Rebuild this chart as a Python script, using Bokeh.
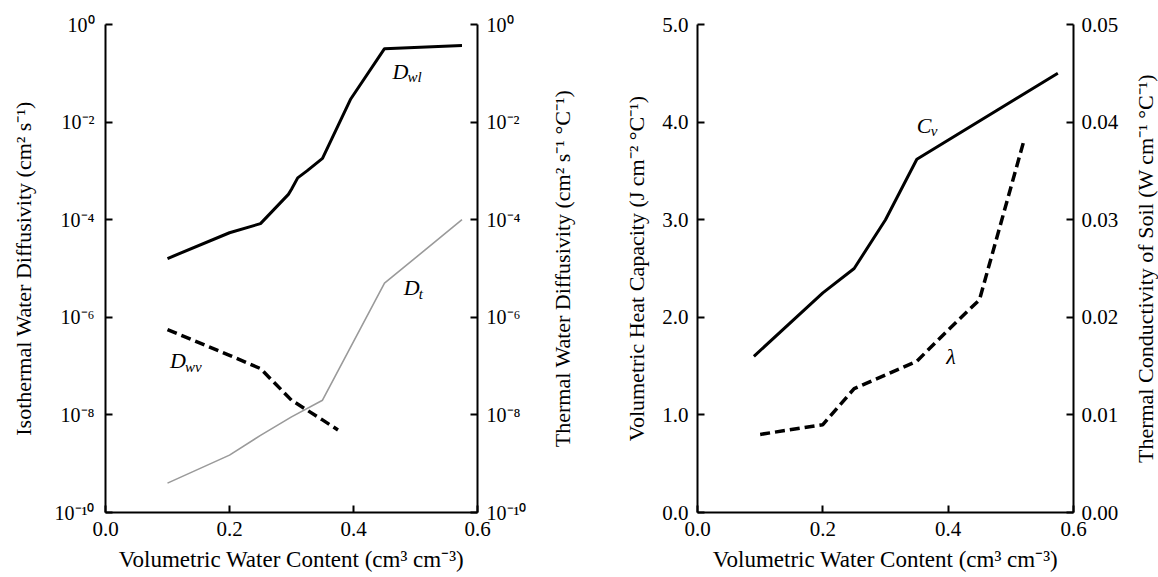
from bokeh.plotting import figure
from bokeh.models import Range1d, FixedTicker, LogAxis, LinearAxis, NumeralTickFormatter
from bokeh.layouts import row
from bokeh.embed import file_html
from bokeh.resources import INLINE
from bokeh.core.properties import value

# ---------------- data ----------------
theta_wl = [0.10, 0.20, 0.25, 0.295, 0.30, 0.31, 0.325, 0.35, 0.395, 0.45, 0.575]
D_wl = [1.6e-5, 5.4e-5, 8.3e-5, 3.3e-4, 4.2e-4, 7.2e-4, 1.0e-3, 1.8e-3, 2.9e-2, 0.32, 0.37]

theta_t = [0.10, 0.20, 0.25, 0.30, 0.35, 0.45, 0.575]
D_t = [4.0e-10, 1.5e-9, 3.8e-9, 9.1e-9, 2.0e-8, 5.0e-6, 1.0e-4]

theta_wv = [0.10, 0.20, 0.25, 0.30, 0.35, 0.375]
D_wv = [5.6e-7, 1.66e-7, 8.9e-8, 2.0e-8, 7.9e-9, 4.9e-9]

theta_cv = [0.09, 0.20, 0.25, 0.30, 0.35, 0.575]
C_v = [1.6, 2.25, 2.5, 3.0, 3.62, 4.5]

theta_k = [0.10, 0.20, 0.25, 0.35, 0.40, 0.45, 0.52]
lam = [0.0080, 0.0090, 0.0127, 0.0155, 0.0187, 0.0218, 0.0379]

x_ticks = [0.0, 0.2, 0.4, 0.6]
log_ticks = [1e-10, 1e-8, 1e-6, 1e-4, 1e-2, 1.0]
log_tick_labels = ["10\u207b\u00b9\u2070", "10\u207b\u2078", "10\u207b\u2076",
                   "10\u207b\u2074", "10\u207b\u00b2", "10\u2070"]
cv_ticks = [0, 1, 2, 3, 4, 5]
k_ticks = [0.0, 0.01, 0.02, 0.03, 0.04, 0.05]

x_title = "Volumetric Water Content (cm\u00b3 cm\u207b\u00b3)"
y1_left = "Isothermal Water Diffusivity (cm\u00b2 s\u207b\u00b9)"
y1_right = "Thermal Water Diffusivity (cm\u00b2 s\u207b\u00b9 \u00b0C\u207b\u00b9)"
y2_left = "Volumetric Heat Capacity (J cm\u207b\u00b2 \u00b0C\u207b\u00b9)"
y2_right = "Thermal Conductivity of Soil (W cm\u207b\u00b9 \u00b0C\u207b\u00b9)"

FONT = "Liberation Serif"
TOP, BOTTOM = 24, 65


def style_axis(ax, size="21px"):
    ax.axis_line_width = 2
    ax.axis_line_color = "black"
    ax.major_tick_in = 7
    ax.major_tick_out = 0
    ax.major_tick_line_width = 2
    ax.major_tick_line_color = "black"
    ax.minor_tick_line_color = None
    ax.major_label_text_font = FONT
    ax.major_label_text_font_size = size
    ax.major_label_text_color = "black"
    ax.major_label_standoff = 9
    ax.axis_label_text_font = FONT
    ax.axis_label_text_font_size = "22px"
    ax.axis_label_text_font_style = "normal"
    ax.axis_label_text_color = "black"


def base_fig(width, ml, mr, y_axis_type="linear", y_range=None):
    p = figure(width=width, height=577, output_backend="svg", toolbar_location=None,
               x_range=Range1d(0, 0.6), y_range=y_range, y_axis_type=y_axis_type,
               min_border_left=ml, min_border_right=mr, min_border_top=TOP, min_border_bottom=BOTTOM)
    p.outline_line_color = None
    p.xgrid.grid_line_color = None
    p.ygrid.grid_line_color = None
    p.background_fill_color = "white"
    p.border_fill_color = "white"
    p.xaxis.ticker = FixedTicker(ticks=x_ticks)
    p.xaxis.formatter = NumeralTickFormatter(format="0.0")
    p.xaxis.axis_label = x_title
    p.xaxis.axis_label_standoff = 8
    style_axis(p.xaxis[0])
    p.xaxis.axis_label_text_font_size = "23px"
    return p


def title_strip(width, ml, text):
    """Narrow strip that carries a right-hand axis title reading bottom-to-top."""
    g = figure(width=width, height=577, output_backend="svg", toolbar_location=None,
               x_axis_location=None, min_border_left=ml, min_border_right=0,
               min_border_top=TOP, min_border_bottom=BOTTOM,
               x_range=Range1d(0, 1), y_range=Range1d(0, 1))
    g.outline_line_color = None
    g.xgrid.grid_line_color = None
    g.ygrid.grid_line_color = None
    ax = g.yaxis[0]
    ax.ticker = FixedTicker(ticks=[])
    ax.axis_line_color = None
    ax.major_tick_line_color = None
    ax.minor_tick_line_color = None
    ax.axis_label = text
    ax.axis_label_standoff = 0
    ax.axis_label_text_font = FONT
    ax.axis_label_text_font_size = "22px"
    ax.axis_label_text_font_style = "normal"
    ax.axis_label_text_color = "black"
    return g


def italic_label(p, x, y, main, sub, main_w, y_range_name="default"):
    kw = dict(text_font=value(FONT), text_font_style="italic", text_color="black",
              text_align="left", text_baseline="middle")
    if y_range_name != "default":
        kw["y_range_name"] = y_range_name
    p.text(x=[x], y=[y], text=[main], text_font_size="22px", **kw)
    if sub:
        p.text(x=[x], y=[y], text=[sub], text_font_size="15px", x_offset=main_w, y_offset=6, **kw)


# ---------------- left panel ----------------
p1 = base_fig(529, 105, 50, y_axis_type="log", y_range=Range1d(1e-10, 1.0))
overrides = {t: s for t, s in zip(log_ticks, log_tick_labels)}
ya = p1.yaxis[0]
ya.ticker = FixedTicker(ticks=log_ticks)
ya.major_label_overrides = overrides
ya.axis_label = y1_left
ya.axis_label_standoff = 16
style_axis(ya, "20px")
ya.major_label_standoff = 11

ra = LogAxis(ticker=FixedTicker(ticks=log_ticks), major_label_overrides=overrides)
style_axis(ra, "20px")
ra.major_label_standoff = 9
p1.add_layout(ra, "right")

p1.line(theta_wl, D_wl, line_color="black", line_width=3)
p1.line(theta_t, D_t, line_color="#9a9a9a", line_width=1.6)
p1.line(theta_wv, D_wv, line_color="black", line_width=3.5, line_dash="10 5")

italic_label(p1, 0.463, 0.11, "D", "wl", 15)
italic_label(p1, 0.481, 4e-6, "D", "t", 15)
italic_label(p1, 0.104, 1.3e-7, "D", "wv", 15)

g1 = title_strip(50, 45, y1_right)

# ---------------- right panel ----------------
p2 = base_fig(542, 118, 45, y_range=Range1d(0, 5))
p2.extra_y_ranges = {"k": Range1d(0, 0.05)}
ya2 = p2.yaxis[0]
ya2.ticker = FixedTicker(ticks=cv_ticks)
ya2.formatter = NumeralTickFormatter(format="0.0")
ya2.axis_label = y2_left
ya2.axis_label_standoff = 10
style_axis(ya2)

ra2 = LinearAxis(y_range_name="k", ticker=FixedTicker(ticks=k_ticks),
                 formatter=NumeralTickFormatter(format="0.00"))
style_axis(ra2)
ra2.major_label_standoff = 8
p2.add_layout(ra2, "right")

p2.line(theta_cv, C_v, line_color="black", line_width=3)
p2.line(theta_k, lam, line_color="black", line_width=3.5, line_dash="10 5", y_range_name="k")

italic_label(p2, 0.35, 3.97, "C", "v", 14)
italic_label(p2, 0.397, 0.016, "\u03bb", "", 0, y_range_name="k")

g2 = title_strip(37, 36, y2_right)

layout = row(p1, g1, p2, g2)
open("out.html", "w").write(file_html(layout, INLINE))
